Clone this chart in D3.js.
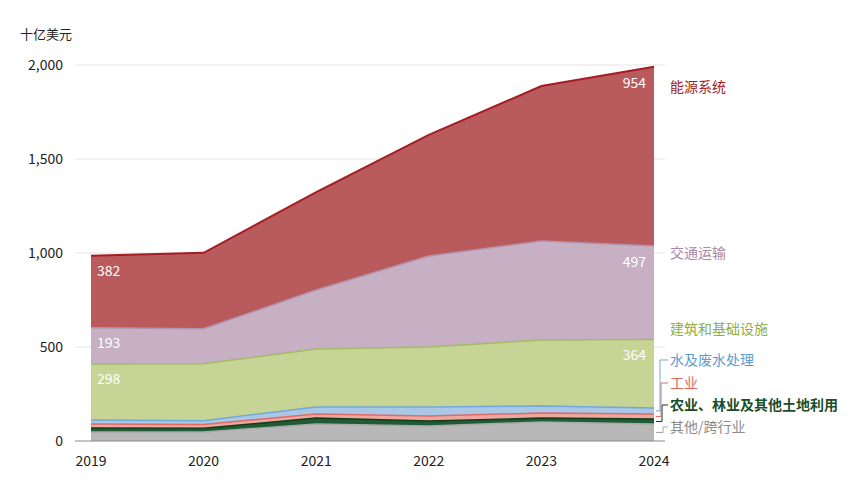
<!DOCTYPE html>
<html><head><meta charset="utf-8">
<script src="https://cdn.jsdelivr.net/npm/d3@7"></script>
<style>body{margin:0;background:#fff;font-family:"Noto Sans CJK SC","Open Sans",sans-serif}</style>
</head><body><svg></svg>
<script>
const years = [2019, 2020, 2021, 2022, 2023, 2024];
const other = [48, 48, 90, 80, 101, 90];
const agri = [21, 20, 32, 26, 21, 27];
const industry = [21, 20, 22, 27, 27, 27];
const water = [22, 20, 37, 48, 37, 32];
const buildings = [298, 303, 308, 319, 351, 364];
const transport = [193, 186, 314, 484, 527, 497];
const energy = [382, 404, 521, 644, 824, 954];
const yTicks = [0, 500, 1000, 1500, 2000];

const series = [
  {key: 'other', name: '其他/跨行业', vals: other, fill: '#b8b8b8', stroke: '#a8a8a8', text: '#8c8c8c', ly: 427, bold: false},
  {key: 'agri', name: '农业、林业及其他土地利用', vals: agri, fill: '#1f5c33', stroke: '#0f3d1e', text: '#1a4d2a', ly: 405, bold: true},
  {key: 'industry', name: '工业', vals: industry, fill: '#eea79e', stroke: '#e06a64', text: '#e0665f', ly: 383, bold: false},
  {key: 'water', name: '水及废水处理', vals: water, fill: '#aac8e6', stroke: '#72a8d8', text: '#5f9bd0', ly: 360, bold: false},
  {key: 'buildings', name: '建筑和基础设施', vals: buildings, fill: '#c6d496', stroke: '#a3bb62', text: '#8fae45', ly: 329, bold: false},
  {key: 'transport', name: '交通运输', vals: transport, fill: '#c7b0c3', stroke: '#b393b0', text: '#a889a6', ly: 253, bold: false},
  {key: 'energy', name: '能源系统', vals: energy, fill: '#b95b5d', stroke: '#a51d22', text: '#a51d22', ly: 87, bold: false}
];

const W = 865, H = 487;
const x = d3.scaleLinear().domain([2019, 2024]).range([91, 654]);
const y = d3.scaleLinear().domain([0, 2000]).range([441, 65]);

const svg = d3.select('svg').attr('width', W).attr('height', H);

const table = years.map((yr, i) => {
  const row = {year: yr};
  series.forEach(s => row[s.key] = s.vals[i]);
  return row;
});
const stacked = d3.stack().keys(series.map(s => s.key))(table);

// grid
svg.append('g').selectAll('line').data(yTicks.slice(1)).join('line')
  .attr('x1', 75).attr('x2', 665).attr('y1', d => y(d)).attr('y2', d => y(d))
  .attr('stroke', '#e4e4e4').attr('stroke-width', 1);

svg.append('g').attr('font-size', 14).attr('fill', '#222')
  .selectAll('text').data(yTicks).join('text')
  .attr('x', 63).attr('y', d => y(d) + 5).attr('text-anchor', 'end')
  .text(d => d3.format(',')(d));

svg.append('text').attr('x', 20).attr('y', 39).attr('font-size', 13).attr('fill', '#222').text('十亿美元');

const area = d3.area().x(d => x(d.data.year)).y0(d => y(d[0])).y1(d => y(d[1]));
const line = d3.line().x(d => x(d.data.year)).y(d => y(d[1]));

svg.append('g').selectAll('path').data(stacked).join('path')
  .attr('d', area).attr('fill', (d, i) => series[i].fill);
svg.append('g').selectAll('path').data(stacked).join('path')
  .attr('d', line).attr('fill', 'none')
  .attr('stroke', (d, i) => series[i].stroke)
  .attr('stroke-width', (d, i) => i === 6 ? 2 : 1.5);

// baseline
svg.append('line').attr('x1', 75).attr('x2', 665).attr('y1', y(0)).attr('y2', y(0))
  .attr('stroke', '#888').attr('stroke-width', 1.2);

svg.append('g').attr('font-size', 14).attr('fill', '#222')
  .selectAll('text').data(years).join('text')
  .attr('x', d => x(d)).attr('y', 466).attr('text-anchor', 'middle').text(d => d);

// value labels
const big = [4, 5, 6];
big.forEach(si => {
  const st = stacked[si];
  [0, 5].forEach(i => {
    const d = st[i];
    svg.append('text')
      .attr('x', i === 0 ? x(years[0]) + 6 : x(years[5]) - 8)
      .attr('y', y(d[1]) + (i === 0 ? 20 : 21))
      .attr('text-anchor', i === 0 ? 'start' : 'end')
      .attr('font-size', 14).attr('fill', '#fff')
      .text(series[si].vals[i]);
  });
});

// series labels
const lx = 670;
series.forEach((s, si) => {
  svg.append('text').attr('x', lx).attr('y', s.ly + 5)
    .attr('font-size', 14).attr('font-weight', s.bold ? 700 : 400)
    .attr('fill', s.text).text(s.name);
  if (si <= 3) {
    const d = stacked[si][5];
    const ym = y((d[0] + d[1]) / 2);
    svg.append('path')
      .attr('d', `M${x(2024) + 2},${ym}H${lx - 7 - si}V${s.ly}H${lx - 2}`)
      .attr('fill', 'none').attr('stroke', s.stroke).attr('stroke-width', 1);
  }
});
</script></body></html>
